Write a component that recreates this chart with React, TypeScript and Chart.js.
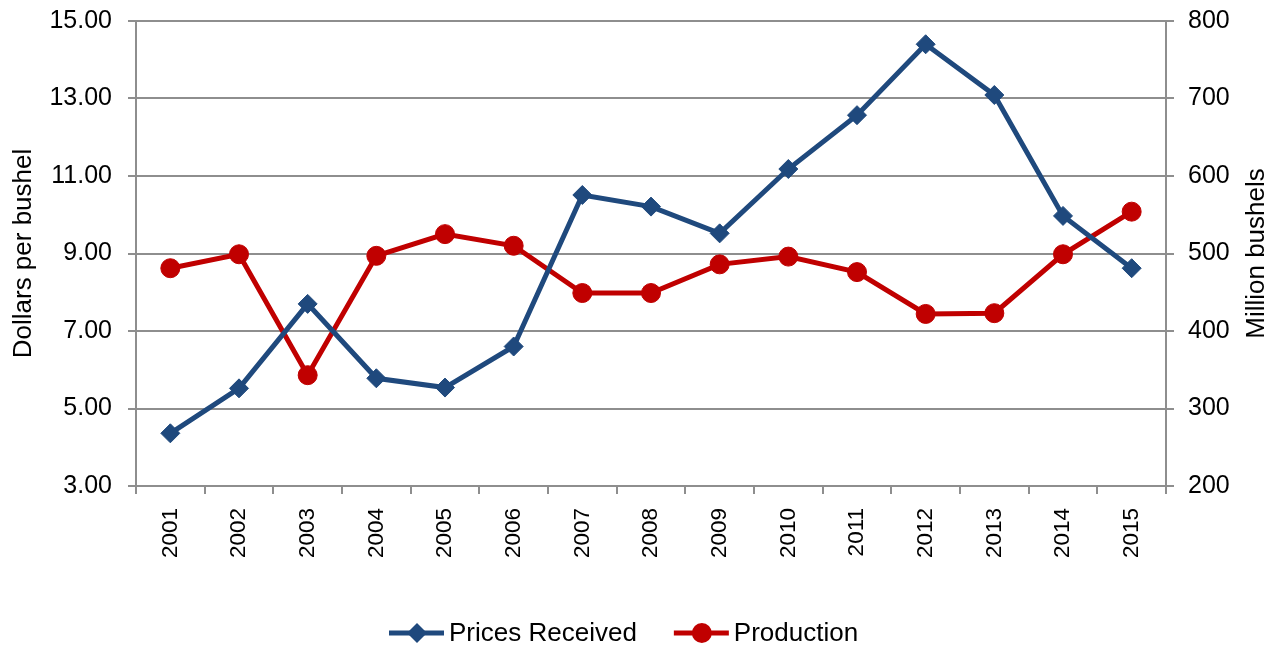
import React, { useEffect, useRef } from "react";
import { Chart, registerables } from "chart.js";

Chart.register(...registerables);

const years = ["2001", "2002", "2003", "2004", "2005", "2006", "2007", "2008", "2009", "2010", "2011", "2012", "2013", "2014", "2015"];
const pricesReceived = [4.36, 5.52, 7.7, 5.78, 5.54, 6.6, 10.51, 10.21, 9.52, 11.18, 12.57, 14.4, 13.09, 9.97, 8.62];
const production = [481, 499, 343, 497, 525, 510, 449, 449, 486, 496, 476, 422, 423, 499, 554];

const BLUE = "#1f497d";
const RED = "#c00000";
const GRID = "#8e8e8e";
const FONT = "'Liberation Sans', Arial, sans-serif";
const rightTitle = "Million bushels";

const legendPlugin = {
  id: "customLegend",
  afterDraw(chart: any) {
    const ctx = chart.ctx;
    const y = 625;
    ctx.save();
    ctx.font = `26px ${FONT}`;
    ctx.textBaseline = "middle";
    ctx.textAlign = "left";
    const items = [
      { label: "Prices Received", color: BLUE, shape: "diamond" },
      { label: "Production", color: RED, shape: "circle" },
    ];
    let x = 381;
    items.forEach((it) => {
      ctx.strokeStyle = it.color;
      ctx.lineWidth = 5;
      ctx.beginPath();
      ctx.moveTo(x, y);
      ctx.lineTo(x + 55, y);
      ctx.stroke();
      ctx.fillStyle = it.color;
      const cx = x + 28;
      ctx.beginPath();
      if (it.shape === "diamond") {
        ctx.moveTo(cx - 10, y);
        ctx.lineTo(cx, y - 10);
        ctx.lineTo(cx + 10, y);
        ctx.lineTo(cx, y + 10);
        ctx.closePath();
      } else {
        ctx.arc(cx, y, 10, 0, Math.PI * 2);
      }
      ctx.fill();
      ctx.fillStyle = "#000";
      ctx.fillText(it.label, x + 60, y + 1);
      x += 60 + ctx.measureText(it.label).width + 37;
    });

    // right axis title, reading bottom-to-top
    const area = chart.chartArea;
    ctx.font = `26px ${FONT}`;
    ctx.textAlign = "center";
    ctx.textBaseline = "middle";
    ctx.translate(1249, (area.top + area.bottom) / 2);
    ctx.rotate(-Math.PI / 2);
    ctx.fillText(rightTitle, 0, 0);
    ctx.restore();
  },
};

function zeroPad(scale: any) {
  scale.paddingTop = 0;
  scale.paddingBottom = 0;
  scale.paddingLeft = 0;
  scale.paddingRight = 0;
}

export default function App() {
  const ref = useRef<HTMLCanvasElement>(null);
  useEffect(() => {
    if (!ref.current) return;
    const chart = new Chart(ref.current, {
      type: "line",
      data: {
        labels: years,
        datasets: [
          {
            label: "Prices Received",
            data: pricesReceived,
            yAxisID: "y",
            borderColor: BLUE,
            backgroundColor: BLUE,
            borderWidth: 5,
            pointStyle: "rectRot",
            pointRadius: 9.5,
            pointBorderWidth: 1,
            pointBackgroundColor: BLUE,
            pointBorderColor: BLUE,
            tension: 0,
          },
          {
            label: "Production",
            data: production,
            yAxisID: "y1",
            borderColor: RED,
            backgroundColor: RED,
            borderWidth: 5,
            pointStyle: "circle",
            pointRadius: 9.5,
            pointBorderWidth: 1,
            pointBackgroundColor: RED,
            pointBorderColor: RED,
            tension: 0,
          },
        ],
      },
      options: {
        animation: false,
        responsive: false,
        maintainAspectRatio: false,
        layout: { padding: { top: 13, left: 0, right: 0, bottom: 0 } },
        plugins: {
          legend: { display: false },
          tooltip: { enabled: false },
        },
        scales: {
          x: {
            offset: true,
            grid: {
              offset: true,
              drawOnChartArea: false,
              drawTicks: true,
              tickLength: 8,
              color: GRID,
              lineWidth: 2,
            },
            border: { color: GRID, width: 2 },
            ticks: {
              minRotation: 90,
              maxRotation: 90,
              padding: 14,
              color: "#000",
              font: { family: FONT, size: 22.5 },
            },
            afterFit(scale: any) {
              scale.height = 159;
              zeroPad(scale);
            },
          },
          y: {
            position: "left",
            min: 3,
            max: 15,
            ticks: {
              stepSize: 2,
              padding: 16,
              color: "#000",
              font: { family: FONT, size: 25 },
              callback: (v: any) => Number(v).toFixed(2),
            },
            grid: { color: GRID, lineWidth: 2, tickLength: 8 },
            border: { color: GRID, width: 2 },
            title: {
              display: true,
              text: "Dollars per bushel",
              color: "#000",
              font: { family: FONT, size: 26 },
              padding: 0,
            },
            afterFit(scale: any) {
              scale.width = 128;
              zeroPad(scale);
            },
          },
          y1: {
            position: "right",
            min: 200,
            max: 800,
            ticks: {
              stepSize: 100,
              padding: 14,
              color: "#000",
              font: { family: FONT, size: 25 },
            },
            grid: { drawOnChartArea: false, color: GRID, lineWidth: 2, tickLength: 8 },
            border: { color: GRID, width: 2 },
            title: { display: false },
            afterFit(scale: any) {
              scale.width = 104;
              zeroPad(scale);
            },
          },
        },
      },
      plugins: [legendPlugin],
    });
    return () => chart.destroy();
  }, []);
  return (
    <div style={{ width: 1262, height: 637 }}>
      <canvas ref={ref} width={1262} height={637} style={{ width: 1262, height: 637 }} />
    </div>
  );
}
